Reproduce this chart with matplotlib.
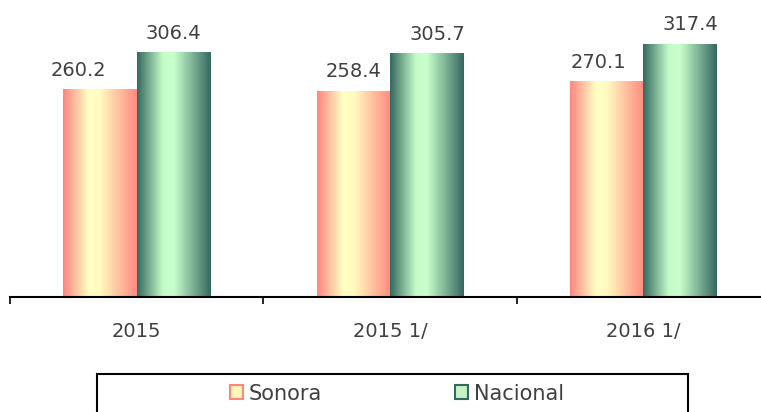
import numpy as np
import matplotlib
matplotlib.use("Agg")
from matplotlib import pyplot as plt
from matplotlib.colors import LinearSegmentedColormap
from matplotlib.patches import Rectangle, Patch

# data
categories = ["2015", "2015 1/", "2016 1/"]
sonora = [260.2, 258.4, 270.1]
nacional = [306.4, 305.7, 317.4]
series_names = ["Sonora", "Nacional"]

# label nudges (pixels) to follow the original placement
sonora_dx = [-21, 0, -8]
nacional_dx = [0, 11, 10]

TEXT = "#404040"
W, H = 761, 412

sonora_cmap = LinearSegmentedColormap.from_list(
    "sonora", [(0, "#ff8580"), (0.35, "#ffffc4"), (0.5, "#fffbc0"), (1, "#ff8a80")])
nacional_cmap = LinearSegmentedColormap.from_list(
    "nacional", [(0, "#356860"), (0.35, "#c4fcc8"), (0.5, "#c8ffcc"), (1, "#356860")])


def gradient_bars(ax, bars, cmap):
    # fill each bar with a left-right gradient
    grad = np.linspace(0, 1, 256).reshape(1, -1)
    for b in bars:
        x, w, h = b.get_x(), b.get_width(), b.get_height()
        ax.imshow(grad, extent=[x, x + w, 0, h], aspect="auto", cmap=cmap,
                  interpolation="bicubic", zorder=2)


fig = plt.figure(figsize=(W / 100, H / 100), dpi=100)
ax = fig.add_axes([10 / W, (H - 297) / H, 760 / W, 286.7 / H])

x = np.arange(len(categories))
bw = 0.29
b1 = ax.bar(x - bw / 2, sonora, bw, facecolor="none", edgecolor="none", zorder=3)
b2 = ax.bar(x + bw / 2, nacional, bw, facecolor="none", edgecolor="none", zorder=3)
gradient_bars(ax, b1, sonora_cmap)
gradient_bars(ax, b2, nacional_cmap)

ax.set_xlim(-0.5, 2.5)
ax.set_ylim(0, 360)

# value labels
for bars, vals, dxs in [(b1, sonora, sonora_dx), (b2, nacional, nacional_dx)]:
    for b, v, dx in zip(bars, vals, dxs):
        ax.annotate(f"{v:.1f}", (b.get_x() + b.get_width() / 2, v),
                    xytext=(dx * 0.72, 10), textcoords="offset points",
                    ha="center", va="baseline", fontsize=14, color=TEXT)

for s in ["top", "right", "left"]:
    ax.spines[s].set_visible(False)
ax.spines["bottom"].set_linewidth(1.5)
ax.set_yticks([])
ax.set_xticks([-0.5, 0.5, 1.5, 2.5])
ax.set_xticklabels([])
ax.tick_params(axis="x", which="major", length=5, width=1.2, direction="out")
ax.set_xticks(x, minor=True)
ax.set_xticklabels(categories, minor=True)
ax.tick_params(axis="x", which="minor", length=0, pad=18, labelsize=14,
               labelcolor=TEXT)

# legend box runs off the bottom of the figure
fig.patches.append(Rectangle((97 / W, -0.2), (688 - 97) / W, 0.2 + (H - 374) / H,
                             transform=fig.transFigure, facecolor="white",
                             edgecolor="black", linewidth=1.5))
handles = [Patch(facecolor="#fff6b8", edgecolor="#ff8580", linewidth=1.5),
           Patch(facecolor="#c4f4c4", edgecolor="#356860", linewidth=1.5)]
fig.legend(handles, series_names, loc="center",
           bbox_to_anchor=(397 / W, (H - 393.5) / H), ncol=2, frameon=False,
           fontsize=15, labelcolor=TEXT, handlelength=0.63, handleheight=0.63,
           handletextpad=0.25, columnspacing=6.4, borderpad=0, borderaxespad=0)

fig.savefig("out.png", dpi=100)
